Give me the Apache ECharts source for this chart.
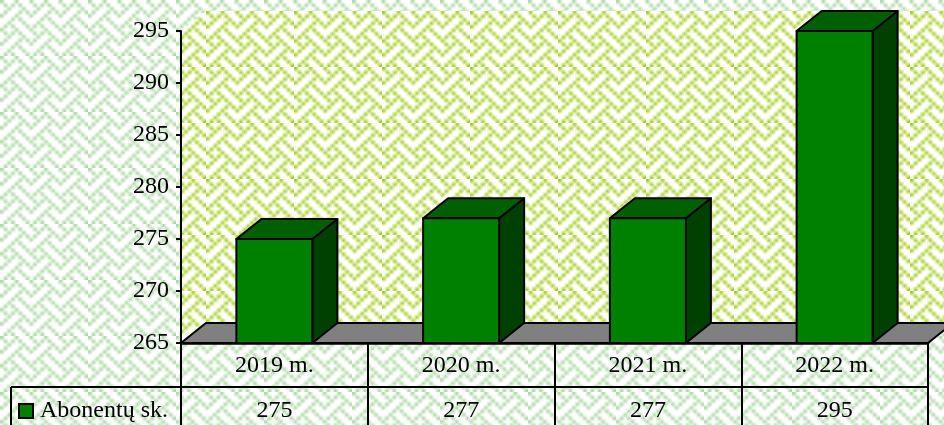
<!DOCTYPE html>
<html>
<head>
<meta charset="utf-8">
<style>html,body{margin:0;padding:0;background:#fff}#chart{width:944px;height:425px}</style>
<script src="https://cdn.jsdelivr.net/npm/echarts@6/dist/echarts.min.js"></script>
</head>
<body>
<div id="chart"></div>
<script>
const categories = ['2019 m.', '2020 m.', '2021 m.', '2022 m.']
const subscribers = [275, 277, 277, 295]
const seriesName = 'Abonentų sk.'
const yMin = 265, yMax = 295, yStep = 5

const depthX = 25, depthY = 20, barWidth = 76
const fontFamily = '"Liberation Serif", "Times New Roman", serif'

// weave brush, 8x8 cells
const weaveRows = [0x88, 0x54, 0x22, 0x45, 0x88, 0x14, 0x22, 0x51]

// w*h tile holding repX*repY brushes, shifted so its corner lands on offX,offY
function weaveTile(color, w, h, repX, repY, offX, offY) {
  const cols = 8 * repX, rows = 8 * repY
  const small = document.createElement('canvas')
  small.width = cols
  small.height = rows
  const s = small.getContext('2d')
  s.fillStyle = '#fff'
  s.fillRect(0, 0, cols, rows)
  s.fillStyle = color
  for (let r = 0; r < rows; r++) {
    for (let c = 0; c < cols; c++) {
      if (weaveRows[r % 8] & (0x80 >> (c % 8))) s.fillRect(c, r, 1, 1)
    }
  }
  const tile = document.createElement('canvas')
  tile.width = w
  tile.height = h
  const t = tile.getContext('2d')
  t.imageSmoothingEnabled = true
  for (let i = -1; i <= 0; i++) {
    for (let j = -1; j <= 0; j++) {
      t.drawImage(small, offX + i * w, offY + j * h, w, h)
    }
  }
  return tile
}

const pageTile = weaveTile('#aed8a6', 88, 56, 3, 2, 0, 0)
const wallTile = weaveTile('#a6d020', 88, 56, 3, 2, 30, 11)

// back wall and floor, taken from the grid rect
function renderRoom(params, api) {
  const g = params.coordSys
  const x0 = g.x, x1 = g.x + g.width, yb = g.y + g.height, yt = g.y
  return {
    type: 'group',
    children: [
      {
        type: 'polygon',
        shape: { points: [[x0, yb], [x0, yt], [x0 + depthX, yt - depthY], [x1 + depthX, yt - depthY], [x1 + depthX, yb - depthY], [x1, yb]] },
        style: { fill: { image: wallTile, repeat: 'repeat' } }
      },
      {
        type: 'polygon',
        shape: { points: [[x0, yb], [x0 + depthX, yb - depthY], [x1 + depthX, yb - depthY], [x1, yb]] },
        style: { fill: '#808080', stroke: '#000', lineWidth: 2 }
      }
    ]
  }
}

function renderBar(params, api) {
  const top = api.coord([api.value(0), api.value(1)])
  const base = api.coord([api.value(0), yMin])
  const l = top[0] - barWidth / 2, r = top[0] + barWidth / 2
  const edge = { stroke: '#000', lineWidth: 2, lineJoin: 'round' }
  return {
    type: 'group',
    children: [
      {
        type: 'polygon',
        shape: { points: [[r, top[1]], [r + depthX, top[1] - depthY], [r + depthX, base[1] - depthY], [r, base[1]]] },
        style: Object.assign({ fill: '#004000' }, edge)
      },
      {
        type: 'polygon',
        shape: { points: [[l, top[1]], [l + depthX, top[1] - depthY], [r + depthX, top[1] - depthY], [r, top[1]]] },
        style: Object.assign({ fill: '#006000' }, edge)
      },
      {
        type: 'rect',
        shape: { x: l, y: top[1], width: barWidth, height: base[1] - top[1] },
        style: Object.assign({ fill: api.visual('color') }, edge)
      }
    ]
  }
}

const chart = echarts.init(document.getElementById('chart'), null, { renderer: 'canvas' })
chart.setOption({
  animation: false,
  backgroundColor: { image: pageTile, repeat: 'repeat' },
  textStyle: { fontFamily: fontFamily },
  grid: { left: 181, right: 16, top: 31, bottom: 82 },
  legend: {
    left: 13, top: 394,
    itemWidth: 14, itemHeight: 14, itemGap: 0,
    icon: 'rect',
    data: [seriesName],
    textStyle: { fontFamily: fontFamily, fontSize: 24, color: '#000', padding: [4, 0, 0, 2] },
    itemStyle: { borderColor: '#000', borderWidth: 2 }
  },
  xAxis: [
    {
      type: 'category',
      data: categories,
      axisLine: { onZero: false, lineStyle: { color: '#000', width: 2.5 } },
      axisTick: { show: true, interval: 0, length: 82, lineStyle: { color: '#000', width: 2 } },
      axisLabel: { color: '#000', fontSize: 24, margin: 11, fontFamily: fontFamily }
    },
    {
      type: 'category',
      position: 'bottom',
      offset: 44,
      data: subscribers.map(String),
      axisLine: { onZero: false, lineStyle: { color: '#000', width: 2 } },
      axisTick: { show: false },
      axisLabel: { color: '#000', fontSize: 24, margin: 12, fontFamily: fontFamily }
    }
  ],
  yAxis: {
    type: 'value',
    min: yMin, max: yMax, interval: yStep,
    splitLine: { show: false },
    axisLine: { show: true, lineStyle: { color: '#000', width: 2 } },
    axisTick: { show: true, length: 5, lineStyle: { color: '#000', width: 2 } },
    axisLabel: { color: '#000', fontSize: 24, margin: 12, fontFamily: fontFamily }
  },
  // legend box of the data table
  graphic: [
    { type: 'line', silent: true, shape: { x1: 11, y1: 387, x2: 181, y2: 387 }, style: { stroke: '#000', lineWidth: 2 } },
    { type: 'line', silent: true, shape: { x1: 11, y1: 387, x2: 11, y2: 425 }, style: { stroke: '#000', lineWidth: 2 } }
  ],
  series: [
    {
      name: 'room',
      type: 'custom',
      silent: true,
      clip: false,
      z: 0,
      data: [[0, yMin]],
      renderItem: renderRoom
    },
    {
      name: seriesName,
      type: 'custom',
      clip: false,
      z: 3,
      itemStyle: { color: '#008000' },
      data: subscribers.map((v, i) => [i, v]),
      encode: { x: 0, y: 1 },
      renderItem: renderBar
    }
  ]
})
</script>
</body>
</html>
